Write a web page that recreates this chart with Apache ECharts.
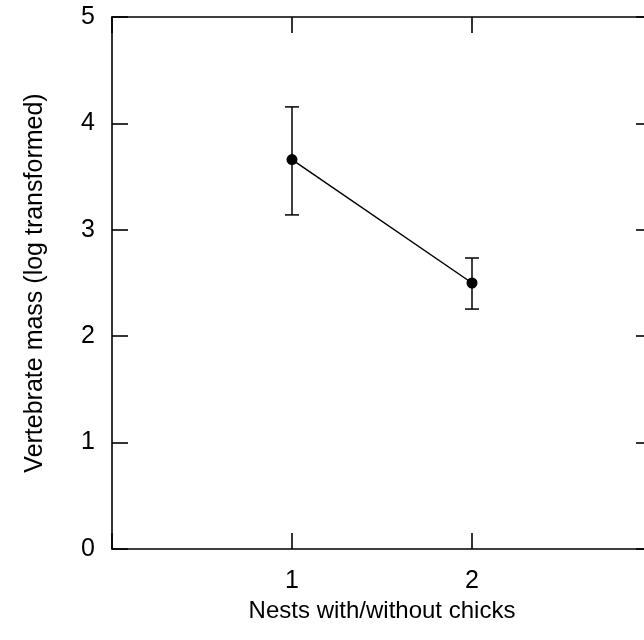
<!DOCTYPE html>
<html>
<head>
<meta charset="utf-8">
<script src="https://cdn.jsdelivr.net/npm/echarts@6/dist/echarts.min.js"></script>
<style>html,body{margin:0;padding:0;background:#fff;}#c{width:644px;height:640px;}</style>
</head>
<body>
<div id="c"></div>
<script>
var groups = [1, 2];
var means = [3.66, 2.50];
var upper = [4.155, 2.735];
var lower = [3.14, 2.255];
var xTickLabels = ['1', '2'];
var yTickLabels = ['0', '1', '2', '3', '4', '5'];
var xTitle = 'Nests with/without chicks';
var yTitle = 'Vertebrate mass (log transformed)';

var font = 'Liberation Sans, Arial, sans-serif';
var chart = echarts.init(document.getElementById('c'));
var lineData = groups.map(function (g, i) { return [g, means[i]]; });
var errData = groups.map(function (g, i) { return [g, lower[i], upper[i]]; });

var axisLine = { show: true, onZero: false, lineStyle: { color: '#000', width: 1.6 } };
var tick = { show: true, inside: true, length: 16, lineStyle: { color: '#000', width: 1.6 } };

chart.setOption({
  animation: false,
  backgroundColor: '#fff',
  grid: { left: 112, top: 17, width: 540, height: 532, outerBoundsMode: 'none', containLabel: false },
  xAxis: [{
    type: 'value', min: 0, max: 3, interval: 1, position: 'bottom',
    axisLine: axisLine, axisTick: tick, splitLine: { show: false },
    axisLabel: {
      margin: 20, color: '#000', fontSize: 25, fontFamily: font,
      formatter: function (v) { var i = groups.indexOf(v); return i >= 0 ? xTickLabels[i] : ''; }
    },
    name: xTitle, nameLocation: 'middle', nameGap: 50,
    nameTextStyle: { color: '#000', fontSize: 24, fontFamily: font }
  }, {
    type: 'value', min: 0, max: 3, interval: 1, position: 'top',
    axisLine: axisLine, axisTick: tick, splitLine: { show: false },
    axisLabel: { show: false }
  }],
  yAxis: [{
    type: 'value', min: 0, max: 5, interval: 1, position: 'left',
    axisLine: axisLine, axisTick: tick, splitLine: { show: false },
    axisLabel: {
      margin: 17, color: '#000', fontSize: 25, fontFamily: font,
      formatter: function (v) { return yTickLabels[Math.round(v)]; }
    },
    name: yTitle, nameLocation: 'middle', nameGap: 64, nameRotate: 90,
    nameTextStyle: { color: '#000', fontSize: 25, fontFamily: font }
  }, {
    type: 'value', min: 0, max: 5, interval: 1, position: 'right',
    axisLine: axisLine, axisTick: tick, splitLine: { show: false },
    axisLabel: { show: false }
  }],
  series: [{
    type: 'custom',
    xAxisIndex: 0, yAxisIndex: 0,
    data: errData,
    renderItem: function (params, api) {
      var x = api.value(0);
      var lo = api.coord([x, api.value(1)]);
      var hi = api.coord([x, api.value(2)]);
      var hw = 7;
      var st = { stroke: '#000', lineWidth: 1.5 };
      return {
        type: 'group',
        children: [
          { type: 'line', shape: { x1: lo[0], y1: lo[1], x2: hi[0], y2: hi[1] }, style: st },
          { type: 'line', shape: { x1: hi[0] - hw, y1: hi[1], x2: hi[0] + hw, y2: hi[1] }, style: st },
          { type: 'line', shape: { x1: lo[0] - hw, y1: lo[1], x2: lo[0] + hw, y2: lo[1] }, style: st }
        ]
      };
    },
    z: 2
  }, {
    type: 'line',
    xAxisIndex: 0, yAxisIndex: 0,
    data: lineData,
    symbol: 'circle', symbolSize: 11,
    itemStyle: { color: '#000' },
    lineStyle: { color: '#000', width: 1.5 },
    z: 3
  }]
});
</script>
</body>
</html>
